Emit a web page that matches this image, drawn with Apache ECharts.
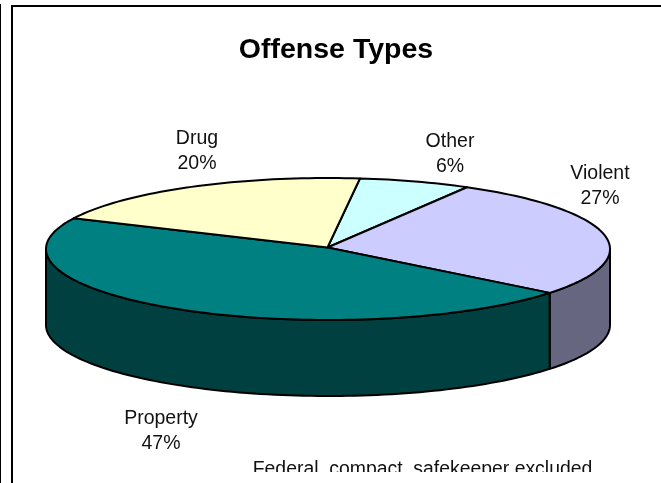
<!DOCTYPE html>
<html><head><meta charset="utf-8">
<style>html,body{margin:0;padding:0;background:#fff}#c{width:661px;height:483px}</style>
<script src="https://cdn.jsdelivr.net/npm/echarts@6/dist/echarts.min.js"></script>
</head><body><div id="c"></div>
<script>
const categories = ['Other', 'Violent', 'Property', 'Drug'];
const shares = [6.4, 27.4, 46.5, 19.7];
const topColors = ['#ccffff', '#ccccff', '#008080', '#ffffcc'];
const sideColors = ['#667f7f', '#666680', '#004040', '#808066'];
const titleText = 'Offense Types';
const noteText = 'Federal, compact, safekeeper excluded';

const CX = 328, CY = 249, RX = 282, RY = 71, DEPTH = 76, START = 6.5;
const APEX = [327.5, 247.5];
const labelPos = {Other: [450, 154], Violent: [600, 186], Property: [161, 431], Drug: [197, 151]};
const total = shares.reduce((a, b) => a + b, 0);
const rad = d => d * Math.PI / 180;
const pt = (t, dy) => [CX + RX * Math.sin(rad(t)), CY - RY * Math.cos(rad(t)) + (dy || 0)];
function arc(a, b, dy) {
  const out = [], n = Math.max(2, Math.ceil((b - a) / 1.5));
  for (let i = 0; i <= n; i++) out.push(pt(a + (b - a) * i / n, dy));
  return out;
}
function bounds(i) {
  let s = START;
  for (let k = 0; k < i; k++) s += shares[k] / total * 360;
  return [s, s + shares[i] / total * 360];
}
const line = {stroke: '#000', lineWidth: 2, lineJoin: 'round'};
function renderSide(params, api) {
  const i = params.dataIndex, [a, b] = bounds(i);
  const from = Math.max(a, 90), to = Math.min(b, 270);
  if (to <= from) return {type: 'group', children: []};
  const pts = arc(from, to, 0).concat(arc(from, to, DEPTH).reverse());
  return {type: 'polygon', shape: {points: pts}, style: Object.assign({fill: sideColors[i]}, line)};
}
function renderTop(params, api) {
  const i = params.dataIndex, [a, b] = bounds(i);
  const pts = [APEX].concat(arc(a, b, 0));
  return {type: 'polygon', shape: {points: pts}, style: Object.assign({fill: topColors[i]}, line)};
}
const seriesData = categories.map((c, i) => ({name: c, value: shares[i]}));
const font = 'Liberation Sans, Arial, sans-serif';
const option = {
  animation: false,
  backgroundColor: '#fff',
  title: {text: titleText, left: 331, top: 31, textAlign: 'center',
    textStyle: {fontFamily: font, fontSize: 28.5, fontWeight: 'bold', color: '#000'}},
  series: [
    {type: 'custom', coordinateSystem: 'none', renderItem: renderSide, data: seriesData, z: 2, silent: true},
    {type: 'custom', coordinateSystem: 'none', renderItem: renderTop, data: seriesData, z: 3, silent: true}
  ],
  graphic: {elements: [
    ...categories.map((c, i) => ({type: 'text', x: labelPos[c][0], y: labelPos[c][1], z: 10, silent: true,
      style: {text: c + '\n' + Math.round(shares[i]) + '%', fill: '#111', font: '19.5px ' + font,
        align: 'center', verticalAlign: 'middle', lineHeight: 24.5}})),
    {type: 'text', x: 422.5, y: 470, z: 10, silent: true,
      style: {text: noteText, fill: '#111', font: '19.4px ' + font, align: 'center', verticalAlign: 'middle'}},
    {type: 'rect', shape: {x: 14, y: 472, width: 647, height: 11}, style: {fill: '#fff'}, z: 11, silent: true},
    {type: 'line', shape: {x1: 0.5, y1: 4, x2: 0.5, y2: 483}, style: {stroke: '#000', lineWidth: 1}, z: 12, silent: true},
    {type: 'line', shape: {x1: 12, y1: 6, x2: 12, y2: 483}, style: {stroke: '#000', lineWidth: 2}, z: 12, silent: true},
    {type: 'line', shape: {x1: 11, y1: 6, x2: 661, y2: 6}, style: {stroke: '#000', lineWidth: 2}, z: 12, silent: true}
  ]}
};
echarts.init(document.getElementById('c'), null, {renderer: 'canvas'}).setOption(option);
</script></body></html>
